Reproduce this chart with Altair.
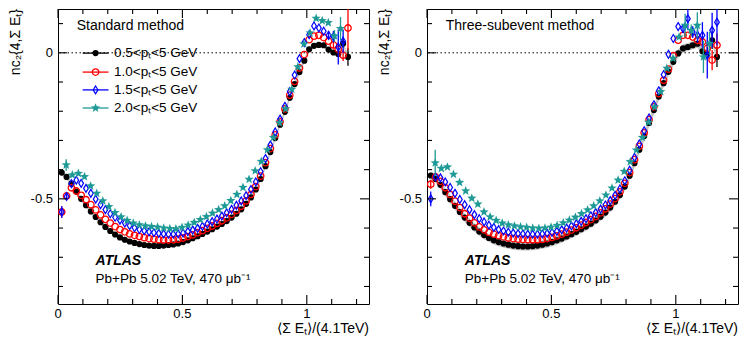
import math
import altair as alt
import pandas as pd

FONT = "Liberation Sans"

# ---------------- data ----------------
# bin centres of <Sigma E_T>/(4.1 TeV)
GRID = [round(0.015 + 0.0195 * i, 4) for i in range(60)]
TGRID = [round(0.033 + 0.0245 * i, 4) for i in range(46)]

# Standard method
STD_BLACK = [-0.410, -0.425, -0.448, -0.475, -0.500, -0.522, -0.543, -0.562, -0.580, -0.596,
             -0.610, -0.622, -0.632, -0.640, -0.646, -0.651, -0.655, -0.658, -0.660, -0.661,
             -0.661, -0.660, -0.658, -0.656, -0.653, -0.648, -0.642, -0.635, -0.628, -0.620,
             -0.612, -0.604, -0.595, -0.586, -0.576, -0.564, -0.551, -0.536, -0.517, -0.495,
             -0.468, -0.432, -0.388, -0.340, -0.292, -0.246, -0.202, -0.154, -0.107, -0.066,
             -0.027, 0.012, 0.024, 0.027, 0.026, 0.011, 0.001, -0.004, 0.032, -0.014]
STD_RED = [-0.545, -0.490, -0.462, -0.473, -0.488, -0.503, -0.520, -0.538, -0.555, -0.570,
           -0.583, -0.595, -0.605, -0.613, -0.620, -0.625, -0.629, -0.633, -0.636, -0.638,
           -0.640, -0.641, -0.641, -0.640, -0.638, -0.634, -0.629, -0.623, -0.616, -0.609,
           -0.601, -0.593, -0.584, -0.575, -0.565, -0.553, -0.540, -0.525, -0.507, -0.485,
           -0.458, -0.422, -0.376, -0.328, -0.281, -0.236, -0.192, -0.145, -0.098, -0.052,
           -0.006, 0.045, 0.057, 0.060, 0.052, 0.040, 0.027, 0.012, -0.008, 0.085]
STD_BLUE = [-0.545, -0.492, -0.448, -0.436, -0.447, -0.464, -0.481, -0.501, -0.520, -0.537,
            -0.551, -0.563, -0.573, -0.583, -0.592, -0.599, -0.605, -0.609, -0.613, -0.616,
            -0.618, -0.620, -0.621, -0.621, -0.620, -0.617, -0.612, -0.607, -0.601, -0.594,
            -0.586, -0.578, -0.569, -0.559, -0.548, -0.536, -0.522, -0.507, -0.489, -0.468,
            -0.442, -0.407, -0.362, -0.316, -0.271, -0.227, -0.183, -0.133, -0.076, -0.020,
            0.035, 0.062, 0.092, 0.085, 0.074, 0.060, 0.055, 0.020, 0.040, None]
STD_TEAL = [-0.384, -0.418, -0.413, -0.424, -0.456, -0.481, -0.507, -0.527, -0.547, -0.562,
            -0.574, -0.583, -0.589, -0.593, -0.595, -0.597, -0.600, -0.602, -0.603, -0.598,
            -0.590, -0.581, -0.571, -0.561, -0.549, -0.537, -0.524, -0.506, -0.485, -0.461,
            -0.433, -0.404, -0.372, -0.332, -0.290, -0.240, -0.192, -0.125, -0.048, 0.030,
            0.068, 0.118, 0.110, 0.103, 0.058, 0.083]
STD_ERR = {
    "black": {57: 0.008, 58: 0.015, 59: 0.03},
    "red": {0: 0.02, 1: 0.012, 56: 0.012, 57: 0.015, 58: 0.02, 59: 0.075},
    "blue": {0: 0.02, 1: 0.012, 55: 0.015, 56: 0.02, 57: 0.06, 58: 0.04},
    "teal": {0: 0.02, 44: 0.02, 45: 0.04},
}

# Three-subevent method
SUB_BLACK = [-0.420, -0.432, -0.452, -0.477, -0.501, -0.524, -0.545, -0.564, -0.582, -0.598,
             -0.612, -0.624, -0.634, -0.642, -0.648, -0.653, -0.657, -0.660, -0.662, -0.663,
             -0.663, -0.662, -0.660, -0.657, -0.653, -0.648, -0.642, -0.636, -0.629, -0.621,
             -0.613, -0.604, -0.595, -0.585, -0.574, -0.561, -0.547, -0.530, -0.510, -0.487,
             -0.458, -0.421, -0.378, -0.332, -0.285, -0.240, -0.196, -0.150, -0.104, -0.065,
             -0.031, -0.002, 0.015, 0.020, 0.026, 0.031, 0.005, -0.004, 0.043, -0.014]
SUB_RED = [-0.450, -0.425, -0.440, -0.462, -0.485, -0.508, -0.530, -0.551, -0.566, -0.582,
           -0.596, -0.606, -0.615, -0.621, -0.626, -0.630, -0.634, -0.636, -0.638, -0.639,
           -0.640, -0.640, -0.640, -0.639, -0.636, -0.632, -0.627, -0.621, -0.614, -0.607,
           -0.599, -0.590, -0.581, -0.571, -0.560, -0.548, -0.534, -0.518, -0.499, -0.476,
           -0.447, -0.410, -0.366, -0.320, -0.274, -0.229, -0.185, -0.140, -0.094, -0.056,
           -0.010, 0.043, 0.060, 0.060, 0.054, 0.043, 0.037, 0.015, -0.025, 0.026]
SUB_BLUE = [-0.500, -0.425, -0.428, -0.442, -0.461, -0.481, -0.502, -0.520, -0.537, -0.554,
            -0.568, -0.579, -0.590, -0.598, -0.605, -0.610, -0.614, -0.617, -0.619, -0.620,
            -0.621, -0.621, -0.621, -0.620, -0.618, -0.615, -0.611, -0.606, -0.600, -0.593,
            -0.585, -0.577, -0.568, -0.558, -0.547, -0.535, -0.521, -0.506, -0.488, -0.466,
            -0.438, -0.402, -0.358, -0.312, -0.267, -0.223, -0.178, -0.130, -0.075, -0.005,
            0.049, 0.090, 0.083, 0.117, 0.071, 0.060, 0.060, -0.008, 0.077, 0.105]
SUB_TEAL = [-0.377, -0.396, -0.391, -0.416, -0.444, -0.473, -0.498, -0.518, -0.545, -0.562,
            -0.574, -0.583, -0.589, -0.593, -0.596, -0.598, -0.600, -0.601, -0.600, -0.597,
            -0.591, -0.582, -0.573, -0.563, -0.551, -0.538, -0.524, -0.507, -0.487, -0.463,
            -0.436, -0.406, -0.373, -0.333, -0.290, -0.238, -0.185, -0.133, -0.053, -0.019,
            0.054, 0.094, 0.077, 0.094, -0.014, 0.032]
SUB_ERR = {
    "black": {57: 0.012, 58: 0.03, 59: 0.035},
    "red": {0: 0.015, 56: 0.015, 57: 0.02, 58: 0.035, 59: 0.04},
    "blue": {0: 0.025, 52: 0.015, 53: 0.04, 54: 0.02, 55: 0.025, 56: 0.045, 57: 0.08, 58: 0.06, 59: 0.08},
    "teal": {0: 0.045, 41: 0.04, 42: 0.02, 43: 0.045, 44: 0.055, 45: 0.04},
}
SYS_STD = 0.008
SYS_SUB = 0.014

SERIES = ["black", "red", "blue", "teal"]
LABELS = ["0.5<pₜ<5 GeV", "1.0<pₜ<5 GeV", "1.5<pₜ<5 GeV", "2.0<pₜ<5 GeV"]

X_MAJOR = [0.0, 0.5, 1.0]
X_TICK_LABELS = ["0", "0.5", "1"]
X_MINOR = [0.1, 0.2, 0.3, 0.4, 0.6, 0.7, 0.8, 0.9, 1.1, 1.2]
Y_MAJOR = [-0.5, 0.0]
Y_TICK_LABELS = ["-0.5", "0"]
Y_MINOR = [-0.8, -0.7, -0.6, -0.4, -0.3, -0.2, -0.1, 0.1]
XTITLE = "⟨Σ Eₜ⟩/(4.1TeV)"
YTITLE = "nc₂{4,Σ Eₜ}"

# ---------------- styling ----------------
def star_path(r_in=0.42):
    pts = []
    for k in range(10):
        a = math.radians(-90 + 36 * k)
        r = 1.0 if k % 2 == 0 else r_in
        pts.append(f"{r * math.cos(a):.3f},{r * math.sin(a):.3f}")
    return "M" + "L".join(pts) + "Z"

DIAMOND = "M0,-1L0.6,0L0,1L-0.6,0Z"
STYLE = {
    "black": dict(color="black", shape="circle", filled=True, size=38),
    "red": dict(color="#ff0000", shape="circle", filled=False, size=42, strokeWidth=1.3),
    "blue": dict(color="#0000ff", shape=DIAMOND, filled=False, size=62, strokeWidth=1.2),
    "teal": dict(color="#1e9a96", shape=star_path(), filled=True, size=95),
}

X0, X1 = 0.0, 1.25
Y0, Y1 = -0.86, 0.15
XS = alt.Scale(domain=[X0, X1], nice=False, zero=False)
YS = alt.Scale(domain=[Y0, Y1], nice=False, zero=False)
W, H = 311, 295
MAJ, MIN = 9, 5
PX_X = (X1 - X0) / W   # data units per pixel
PX_Y = (Y1 - Y0) / H


def enc_xy(ch):
    return ch.encode(x=alt.X("x:Q", scale=XS, axis=None), y=alt.Y("y:Q", scale=YS, axis=None))


def frame_layers():
    out = []
    rows = []
    hw_x, hw_y = 0.55 * PX_X, 0.55 * PX_Y
    for vals, ln in ((X_MAJOR, MAJ), (X_MINOR, MIN)):
        for v in vals:
            rows.append({"x": v - hw_x, "x2": v + hw_x, "y": Y0, "y2": Y0 + ln * PX_Y})
            rows.append({"x": v - hw_x, "x2": v + hw_x, "y": Y1, "y2": Y1 - ln * PX_Y})
    for vals, ln in ((Y_MAJOR, MAJ), (Y_MINOR, MIN)):
        for v in vals:
            rows.append({"x": X0, "x2": X0 + ln * PX_X, "y": v - hw_y, "y2": v + hw_y})
            rows.append({"x": X1, "x2": X1 - ln * PX_X, "y": v - hw_y, "y2": v + hw_y})
    ticks = pd.DataFrame(rows)
    out.append(alt.Chart(ticks).mark_rect(color="black", opacity=1, clip=False).encode(
        x=alt.X("x:Q", scale=XS, axis=None), x2="x2:Q",
        y=alt.Y("y:Q", scale=YS, axis=None), y2="y2:Q"))
    # tick labels
    xl = pd.DataFrame({"v": X_MAJOR, "t": X_TICK_LABELS})
    out.append(alt.Chart(xl).mark_text(font=FONT, fontSize=13, align="center", baseline="top",
                                       color="black").encode(
        x=alt.X("v:Q", scale=XS, axis=None), y=alt.value(H + 4), text="t:N"))
    yl = pd.DataFrame({"v": Y_MAJOR, "t": Y_TICK_LABELS})
    out.append(alt.Chart(yl).mark_text(font=FONT, fontSize=13, align="right", baseline="middle",
                                       color="black").encode(
        y=alt.Y("v:Q", scale=YS, axis=None), x=alt.value(-5), text="t:N"))
    # axis titles
    out.append(alt.Chart(pd.DataFrame({"t": [XTITLE]})).mark_text(
        font=FONT, fontSize=14, align="right", baseline="top", color="black").encode(
        x=alt.value(W), y=alt.value(H + 18), text="t:N"))
    out.append(alt.Chart(pd.DataFrame({"t": [YTITLE]})).mark_text(
        font=FONT, fontSize=14, align="right", baseline="top", angle=270, color="black").encode(
        x=alt.value(-49), y=alt.value(0), text="t:N"))
    return out


def series_df(xs, ys, errs):
    rows = []
    for i, (x, y) in enumerate(zip(xs, ys)):
        if y is None:
            continue
        e = errs.get(i, 0.0)
        rows.append({"x": x, "y": y, "lo": y - e, "hi": y + e, "e": e})
    return pd.DataFrame(rows)


def panel(vals, errs, sys_hw, method, atlas_x, legend):
    layers = []
    black = series_df(GRID, vals["black"], errs["black"])
    black["blo"] = black["y"] - sys_hw
    black["bhi"] = black["y"] + sys_hw
    layers.append(alt.Chart(black).mark_area(color="#c4c4c4", clip=True).encode(
        x=alt.X("x:Q", scale=XS, axis=None), y=alt.Y("blo:Q", scale=YS, axis=None), y2="bhi:Q"))
    layers.append(alt.Chart(pd.DataFrame({"z": [0.0]})).mark_rule(
        color="black", strokeDash=[1.5, 2.5], strokeWidth=1).encode(
        y=alt.Y("z:Q", scale=YS, axis=None)))
    for s in SERIES:
        xs = TGRID if s == "teal" else GRID
        df = series_df(xs, vals[s], errs[s])
        st = STYLE[s]
        eb = df[df["e"] > 0]
        layers.append(alt.Chart(eb).mark_rule(color=st["color"], strokeWidth=1.3, clip=True).encode(
            x=alt.X("x:Q", scale=XS, axis=None), y=alt.Y("lo:Q", scale=YS, axis=None), y2="hi:Q"))
        layers.append(enc_xy(alt.Chart(df).mark_point(opacity=1, clip=True, **st)))
    layers += frame_layers()
    # annotations
    txt = pd.DataFrame({"x": [0.075], "y": [0.092], "t": [method]})
    layers.append(enc_xy(alt.Chart(txt).mark_text(align="left", baseline="middle", font=FONT,
                                                   fontSize=14, color="black")).encode(text="t:N"))
    atl = pd.DataFrame({"x": [atlas_x], "y": [-0.713], "t": ["ATLAS"]})
    layers.append(enc_xy(alt.Chart(atl).mark_text(align="left", baseline="middle", font=FONT,
                                                   fontSize=14, fontStyle="italic", fontWeight="bold",
                                                   color="black")).encode(text="t:N"))
    pb = pd.DataFrame({"x": [atlas_x], "y": [-0.775], "t": ["Pb+Pb 5.02 TeV, 470 μb⁻¹"]})
    layers.append(enc_xy(alt.Chart(pb).mark_text(align="left", baseline="middle", font=FONT,
                                                  fontSize=13.5, color="black")).encode(text="t:N"))
    if legend:
        rows_y = [-0.001, -0.066, -0.127, -0.189]
        for s, lab, yy in zip(SERIES, LABELS, rows_y):
            st = STYLE[s]
            seg = pd.DataFrame({"x": [0.099], "x2": [0.203], "y": [yy]})
            layers.append(alt.Chart(seg).mark_rule(color=st["color"], strokeWidth=1.3).encode(
                x=alt.X("x:Q", scale=XS, axis=None), x2="x2:Q", y=alt.Y("y:Q", scale=YS, axis=None)))
            mk = pd.DataFrame({"x": [0.151], "y": [yy]})
            layers.append(enc_xy(alt.Chart(mk).mark_point(opacity=1, **st)))
            tx = pd.DataFrame({"x": [0.225], "y": [yy], "t": [lab]})
            layers.append(enc_xy(alt.Chart(tx).mark_text(align="left", baseline="middle", font=FONT,
                                                          fontSize=13.5, color="black")).encode(text="t:N"))
    return alt.layer(*layers).properties(width=W, height=H)


std_vals = {"black": STD_BLACK, "red": STD_RED, "blue": STD_BLUE, "teal": STD_TEAL}
sub_vals = {"black": SUB_BLACK, "red": SUB_RED, "blue": SUB_BLUE, "teal": SUB_TEAL}

left = panel(std_vals, STD_ERR, SYS_STD, "Standard method", 0.151, True)
right = panel(sub_vals, SUB_ERR, SYS_SUB, "Three-subevent method", 0.152, False)

chart = alt.hconcat(left, right, spacing=58, bounds="flush").properties(
    padding={"left": 0, "top": 0, "right": 0, "bottom": 0},
    background="white",
).configure_view(stroke="black", strokeWidth=1)

chart.save("out.html", embed_options={"renderer": "svg", "actions": False})
